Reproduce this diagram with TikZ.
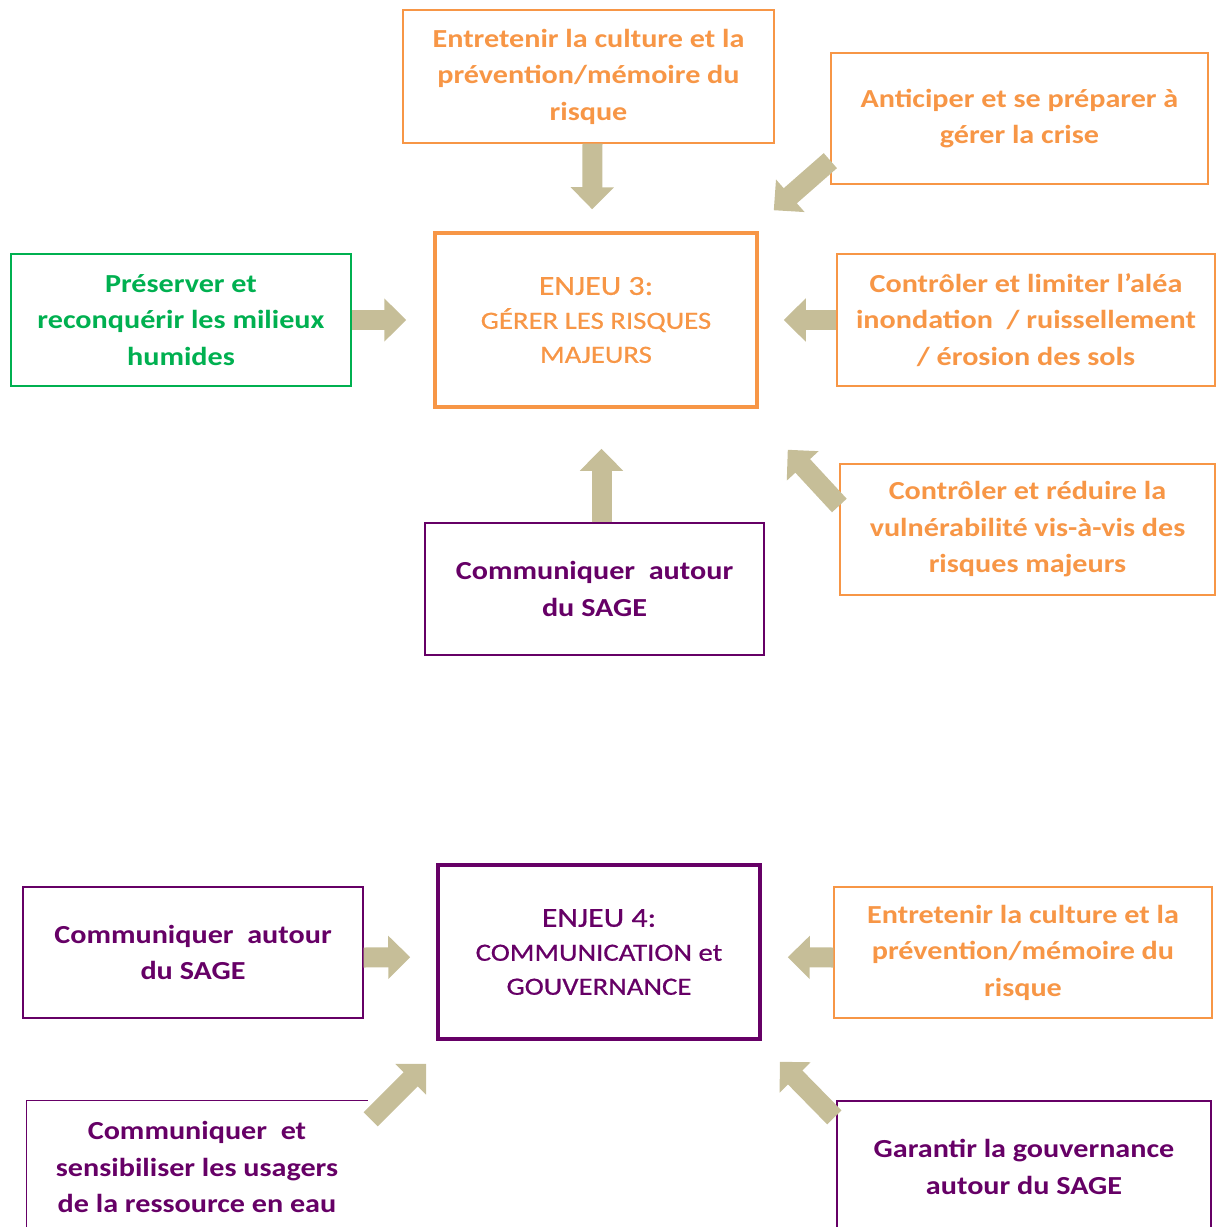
\documentclass[tikz,border=0pt]{standalone}
\usepackage{fontspec}
\setmainfont{Carlito}[FakeStretch=1.16]
\newfontfamily\midfont{Carlito}[FakeStretch=1.16, FakeBold=0.6]
\usepackage{xcolor}
\usetikzlibrary{arrows.meta}
\definecolor{risk}{HTML}{F79646}
\definecolor{wet}{HTML}{00B050}
\definecolor{gov}{HTML}{660066}
\definecolor{sand}{HTML}{C6BE98}
\newcommand{\enjeuline}[1]{{\fontsize{27.5}{34}\selectfont #1}}
\tikzset{
  goal/.style={rectangle, draw, line width=1.3pt, align=center, font=\fontsize{26}{36.5}\selectfont\bfseries, inner sep=0pt},
  issue/.style={rectangle, draw, line width=3.5pt, align=center, font=\midfont\fontsize{24.8}{34}\selectfont, inner sep=0pt, minimum width=322, minimum height=174},
  blk/.style={-{Triangle[length=22pt, width=42pt]}, line width=20pt, sand},
}

\begin{document}
\begin{tikzpicture}[x=1pt, y=-1pt,
  risque/.style={goal, draw=risk, text=risk},
  gouv/.style={goal, draw=gov, text=gov}]
\useasboundingbox (0,0) rectangle (1216,1227);
\node[issue, draw=risk, text=risk] (e3) at (596,320) {\enjeuline{ENJEU 3:}\\GÉRER LES RISQUES\\MAJEURS};
\node[risque, minimum width=371, minimum height=133] (t1) at (588.5,76.5) {Entretenir la culture et la\\prévention/mémoire du\\risque};
\node[risque, minimum width=377, minimum height=131] (ant) at (1019.5,118.5) {Anticiper et se préparer à\\gérer la crise};
\node[goal, draw=wet, text=wet, minimum width=340, minimum height=132] (pres) at (181,320) {Préserver et\\reconquérir les milieux\\humides};
\node[risque, minimum width=378, minimum height=132] (lim) at (1026,320) {Contrôler et limiter l’aléa\\inondation~ / ruissellement\\/ érosion des sols};
\node[risque, minimum width=375, minimum height=131] (red) at (1027.5,529.5) {Contrôler et réduire la\\vulnérabilité vis-à-vis des\\risques majeurs};
\node[gouv, minimum width=339, minimum height=132] (com3) at (594.5,589) {Communiquer~ autour\\du SAGE};
\draw[blk, shorten >=22] ([xshift=4]t1.south) -- ([xshift=-4]e3.north);
\draw[blk] ([yshift=24]ant.south west) -- ([xshift=15, yshift=21]e3.north east);
\draw[blk, shorten >=27] (pres.east) -- (e3.west);
\draw[blk, shorten >=25] (lim.west) -- (e3.east);
\draw[blk] ([yshift=24]red.west) -- ([xshift=29, yshift=-41]e3.south east);
\draw[blk, shorten >=40] ([xshift=7]com3.north) -- ([xshift=7]com3.north |- e3.south);

\node[issue, draw=gov, text=gov] (e4) at (599,952) {\enjeuline{ENJEU 4:}\\COMMUNICATION et\\GOUVERNANCE};
\node[gouv, minimum width=340, minimum height=131] (com4) at (193,952.5) {Communiquer~ autour\\du SAGE};
\node[risque, minimum width=378, minimum height=131] (ent4) at (1023,952.5) {Entretenir la culture et la\\prévention/mémoire du\\risque};
\node[goal, text=gov, draw=none, minimum width=340, minimum height=132] (sens) at (197,1167) {Communiquer~ et\\sensibiliser les usagers\\de la ressource en eau};
\draw[gov, line width=1.3pt] (sens.south west) -- (sens.north west) -- (sens.north east);
\node[gouv, minimum width=374, minimum height=132] (gar) at (1024,1167) {Garantir la gouvernance\\autour du SAGE};
\draw[blk, shorten >=26] ([yshift=-5]com4.east) -- ([yshift=-5]e4.west);
\draw[blk, shorten >=26] ([yshift=-5]ent4.west) -- ([yshift=-5]e4.east);
\draw[blk] ([xshift=3, yshift=-19]sens.north east) -- ([xshift=-10, yshift=-23]e4.south west);
\draw[blk] ([xshift=-2, yshift=-17]gar.north west) -- ([xshift=18, yshift=-21]e4.south east);
\end{tikzpicture}
\end{document}
